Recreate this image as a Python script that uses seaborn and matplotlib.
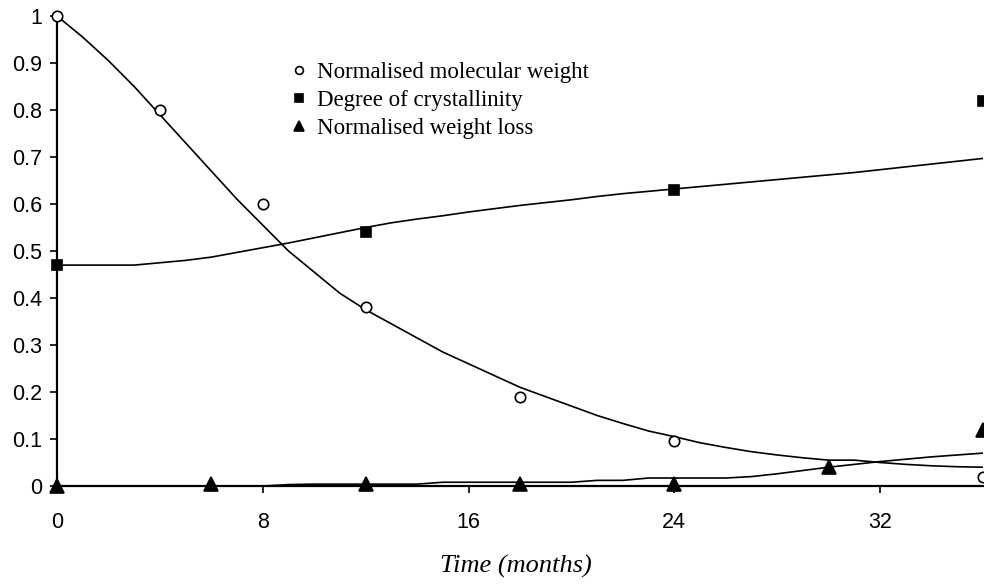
import numpy as np
import pandas as pd
import matplotlib
matplotlib.use("Agg")
import matplotlib.pyplot as plt
import seaborn as sns

# Measured data points
mw_t = [0, 4, 8, 12, 18, 24, 36]
mw_v = [1.0, 0.80, 0.60, 0.38, 0.19, 0.095, 0.02]
cr_t = [0, 12, 24, 36]
cr_v = [0.47, 0.54, 0.63, 0.82]
wl_t = [0, 6, 12, 18, 24, 30, 36]
wl_v = [0.0, 0.005, 0.005, 0.005, 0.005, 0.04, 0.12]

# Model curves (monthly)
curve_t = list(range(0, 37))
mw_curve = [1.0, 0.955, 0.905, 0.85, 0.79, 0.73, 0.67, 0.61, 0.555, 0.50, 0.455,
            0.41, 0.375, 0.345, 0.315, 0.285, 0.26, 0.235, 0.21, 0.19, 0.17,
            0.15, 0.133, 0.117, 0.105, 0.092, 0.082, 0.073, 0.066, 0.06, 0.055,
            0.055, 0.05, 0.046, 0.043, 0.041, 0.04]
cr_curve = [0.47, 0.47, 0.47, 0.47, 0.475, 0.48, 0.487, 0.497, 0.507, 0.517, 0.528,
            0.539, 0.55, 0.56, 0.568, 0.575, 0.583, 0.59, 0.597, 0.603, 0.609,
            0.616, 0.622, 0.627, 0.632, 0.637, 0.642, 0.647, 0.652, 0.657, 0.662,
            0.667, 0.673, 0.679, 0.685, 0.691, 0.697]
wl_curve = [0, 0, 0, 0, 0, 0, 0, 0, 0, 0.003, 0.004, 0.004, 0.004, 0.004, 0.004,
            0.008, 0.008, 0.008, 0.008, 0.008, 0.008, 0.012, 0.012, 0.017, 0.017,
            0.017, 0.017, 0.02, 0.026, 0.033, 0.04, 0.046, 0.052, 0.057, 0.062,
            0.066, 0.07]

labels = ["Normalised molecular weight", "Degree of crystallinity", "Normalised weight loss"]
x_ticks = [0, 8, 16, 24, 32]
y_ticks = [0, 0.1, 0.2, 0.3, 0.4, 0.5, 0.6, 0.7, 0.8, 0.9, 1]

sns.set_theme(style="white")
plt.rcParams['font.family'] = ['Liberation Sans', 'DejaVu Sans']
plt.rcParams['text.color'] = 'black'
plt.rcParams['axes.labelcolor'] = 'black'

fig = plt.figure(figsize=(9.84, 5.84), dpi=100)
ax = fig.add_axes([57/984, 1-486/584, 926/984, 470/584])

curves = pd.DataFrame({"t": curve_t * 3,
                       "v": mw_curve + cr_curve + wl_curve,
                       "s": ["mw"] * 37 + ["cr"] * 37 + ["wl"] * 37})
for s in ["mw", "cr", "wl"]:
    sub = curves[curves.s == s]
    sns.lineplot(data=sub, x="t", y="v", ax=ax, color="black", lw=1.2,
                 legend=False, estimator=None, sort=False)

pts = [(mw_t, mw_v, "o", labels[0], "white", 7.5),
       (cr_t, cr_v, "s", labels[1], "black", 7.5),
       (wl_t, wl_v, "^", labels[2], "black", 9.5)]
for t, v, m, lab, fc, ms in pts:
    ax.plot(t, v, linestyle="none", marker=m, markersize=ms, markerfacecolor=fc,
            markeredgecolor="black", markeredgewidth=1.2, label=lab, clip_on=False,
            zorder=5)

ax.set_xlim(0, 36)
ax.set_ylim(0, 1)
ax.set_xticks(x_ticks)
ax.set_xticklabels([str(v) for v in x_ticks])
ax.set_yticks(y_ticks)
ax.set_yticklabels([("%g" % v) for v in y_ticks])
ax.tick_params(axis="both", direction="out", length=5, width=1.2, color="black",
               labelsize=15.5, labelcolor="black", left=True, bottom=True)
ax.tick_params(axis="y", pad=5.5)
ax.tick_params(axis="x", pad=13.5)
for side in ["top", "right"]:
    ax.spines[side].set_visible(False)
for side in ["left", "bottom"]:
    ax.spines[side].set_color("black")
    ax.spines[side].set_linewidth(1.6)
ax.set_ylabel("")
ax.set_xlabel("Time (months)", fontsize=19, fontstyle="italic",
              family=["Liberation Serif", "DejaVu Serif"], color="black")
ax.xaxis.set_label_coords((516 - 57) / 926, -0.146)

leg = ax.legend(loc="upper left", bbox_to_anchor=(0.2516, 0.902), frameon=False,
                prop={"family": ["Liberation Serif", "DejaVu Serif"], "size": 16.5},
                handlelength=0.8, handletextpad=0.38, labelspacing=0.3,
                borderpad=0, borderaxespad=0, markerscale=0.75)

fig.savefig("out.png", dpi=100)
